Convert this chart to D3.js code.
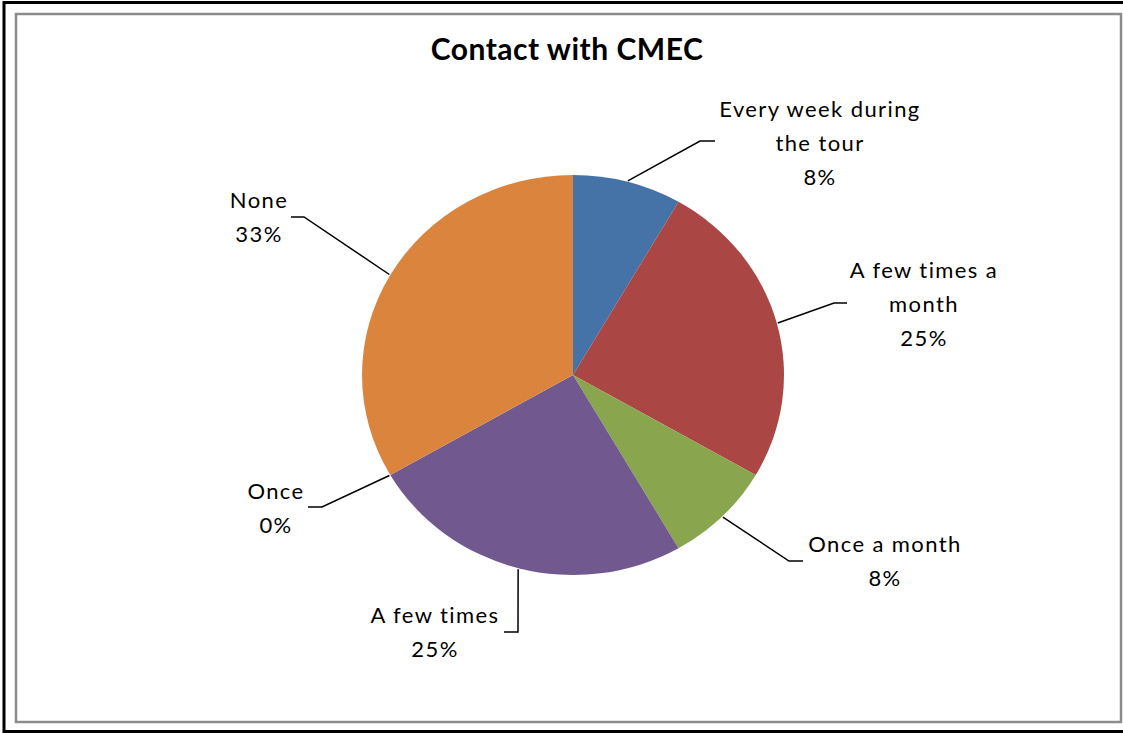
<!DOCTYPE html>
<html>
<head>
<meta charset="utf-8">
<script src="https://cdn.jsdelivr.net/npm/d3@7"></script>
<style>
  body { margin: 0; background: #fff; }
  svg text { font-family: Lato, "Liberation Sans", sans-serif; fill: #000; }
</style>
</head>
<body>
<div id="chart"></div>
<script>
// survey answers (count of respondents)
var categories = ["Every week during the tour", "A few times a month", "Once a month", "A few times", "Once", "None"];
var counts = [1, 3, 1, 3, 0, 4];
var colors = ["#4572A7", "#AA4643", "#89A54E", "#71588F", "#4198AF", "#DB843D"];
// how each label wraps in the original
var labelLines = [["Every week during", "the tour"], ["A few times a", "month"], ["Once a month"], ["A few times"], ["Once"], ["None"]];

// label layout: elbow of leader, end of leader, text centre x, first baseline
var labelLayout = [
  { ex: 700, ey: 141, hx: 715, tx: 820, ty: 117 },
  { ex: 834, ey: 303, hx: 847, tx: 924, ty: 278 },
  { ex: 789, ey: 561, hx: 803, tx: 885, ty: 552 },
  { ex: 518, ey: 632, hx: 504, tx: 435, ty: 623 },
  { ex: 322, ey: 507, hx: 308, tx: 276, ty: 499 },
  { ex: 304, ey: 217, hx: 291, tx: 259, ty: 208 }
];

var W = 1123, H = 734;
var cx = 573, cy = 375, rx = 211, ry = 200;

var svg = d3.select("#chart").append("svg")
    .attr("width", W)
    .attr("height", H);

// outer black frame + grey chart border
svg.append("rect").attr("x", 4).attr("y", 2.5).attr("width", W + 10).attr("height", 729)
    .attr("fill", "none").attr("stroke", "#000").attr("stroke-width", 3);
svg.append("rect").attr("x", 16).attr("y", 14).attr("width", 1105).attr("height", 708)
    .attr("fill", "#fff").attr("stroke", "#8c8c8c").attr("stroke-width", 2.5);

svg.append("text")
    .attr("x", 567).attr("y", 60)
    .attr("text-anchor", "middle")
    .style("font-size", "30px")
    .style("font-weight", "bold")
    .style("letter-spacing", "0.5px")
    .text("Contact with CMEC");

var total = d3.sum(counts);
var data = categories.map(function(c, i) { return { name: c, value: counts[i], i: i }; });

var pie = d3.pie().sort(null).value(function(d) { return d.value; });
var arcs = pie(data);
var arc = d3.arc().innerRadius(0).outerRadius(ry);

// pie is slightly stretched horizontally in the original
var g = svg.append("g")
    .attr("transform", "translate(" + cx + "," + cy + ") scale(" + (rx / ry) + ",1)");

g.selectAll("path")
  .data(arcs)
  .enter().append("path")
    .attr("d", arc)
    .attr("fill", function(d) { return colors[d.data.i]; });

var fmt = function(v) { return Math.round(v / total * 100) + "%"; };

arcs.forEach(function(a, i) {
  var mid = (a.startAngle + a.endAngle) / 2;
  var sx = cx + (rx + 1) * Math.sin(mid),
      sy = cy - (ry + 1) * Math.cos(mid);
  var L = labelLayout[i];

  svg.append("polyline")
      .attr("points", [[sx, sy], [L.ex, L.ey], [L.hx, L.ey]].map(function(p) { return p.join(","); }).join(" "))
      .attr("fill", "none")
      .attr("stroke", "#000")
      .attr("stroke-width", 1.5);

  var lines = labelLines[i].concat([fmt(a.data.value)]);
  var t = svg.append("text")
      .attr("text-anchor", "middle")
      .style("font-size", "22px")
      .style("letter-spacing", "1.4px");
  lines.forEach(function(s, k) {
    t.append("tspan")
      .attr("x", L.tx)
      .attr("y", L.ty + k * 34)
      .text(s);
  });
});
</script>
</body>
</html>
